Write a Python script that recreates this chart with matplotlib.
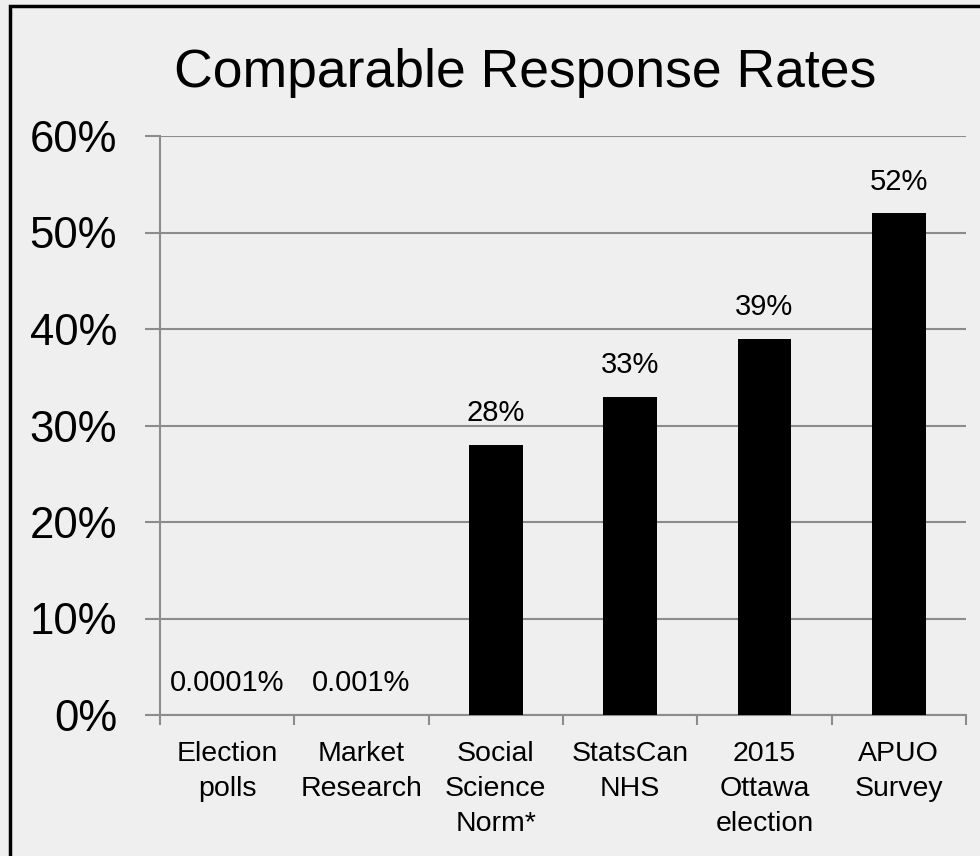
import matplotlib
matplotlib.use("Agg")
import matplotlib.pyplot as plt
from matplotlib.patches import Rectangle
from matplotlib.ticker import FixedLocator, NullFormatter

categories = ["Election\npolls", "Market\nResearch", "Social\nScience\nNorm*",
              "StatsCan\nNHS", "2015\nOttawa\nelection", "APUO\nSurvey"]
values = [0.0001, 0.001, 28, 33, 39, 52]
value_labels = ["0.0001%", "0.001%", "28%", "33%", "39%", "52%"]
yticks = [0, 10, 20, 30, 40, 50, 60]
ytick_labels = ["0%", "10%", "20%", "30%", "40%", "50%", "60%"]
title = "Comparable Response Rates"

FONT = "Liberation Sans"
BG = "#efefef"
GRID = "#8c8c8c"

fig = plt.figure(figsize=(9.8, 8.56), dpi=100)
fig.patch.set_facecolor(BG)
ax = fig.add_axes([160/980, 1-715/856, (966-160)/980, (715-136)/856])
ax.set_facecolor(BG)

x = list(range(len(categories)))
ax.bar(x, values, width=0.4, color="black", zorder=3)

ax.set_xlim(-0.5, len(categories) - 0.5)
ax.set_ylim(0, 60)

ax.set_yticks(yticks)
ax.set_yticklabels(ytick_labels, fontsize=31.5, fontfamily=FONT)
ax.yaxis.grid(True, color=GRID, linewidth=1.5, zorder=0)
ax.tick_params(axis="y", length=11, width=1.5, color=GRID, pad=20)

ax.set_xticks(x)
ax.set_xticklabels(categories, fontsize=20.5, fontfamily=FONT, linespacing=1.45,
                   va="top")
ax.tick_params(axis="x", which="major", length=0, pad=19)
ax.xaxis.set_minor_locator(FixedLocator([i - 0.5 for i in range(len(categories) + 1)]))
ax.xaxis.set_minor_formatter(NullFormatter())
ax.tick_params(axis="x", which="minor", length=7, width=1.5, color=GRID)

for s in ["top", "right"]:
    ax.spines[s].set_visible(False)
for s in ["left", "bottom"]:
    ax.spines[s].set_color(GRID)
    ax.spines[s].set_linewidth(1.5)

for xi, v, lab in zip(x, values, value_labels):
    ax.annotate(lab, (xi, v), xytext=(0, 17), textcoords="offset points",
                ha="center", va="baseline", fontsize=21, fontfamily=FONT)

fig.text(525/980, 1-87/856, title, ha="center", va="baseline",
         fontsize=38.5, fontfamily=FONT)

# frame border
fig.patches.append(Rectangle((9.5/980, -0.1), 1.2, 1.1 - 6/856,
                             transform=fig.transFigure, fill=False,
                             edgecolor="black", linewidth=2.5))

fig.savefig("out.png", dpi=100, facecolor=BG)
